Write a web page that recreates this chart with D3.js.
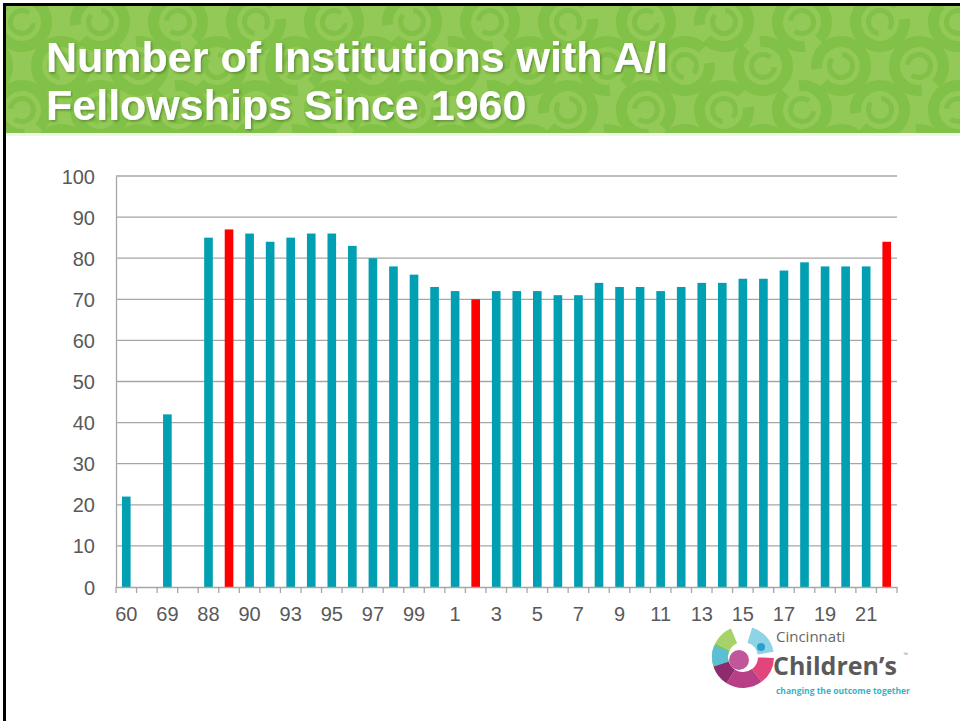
<!DOCTYPE html>
<html><head><meta charset="utf-8">
<script src="https://cdn.jsdelivr.net/npm/d3@7"></script>
<style>
html,body{margin:0;padding:0;background:#fff;}
svg{display:block;font-family:"Liberation Sans",Arial,sans-serif;}
</style></head>
<body>
<svg id="chart" width="960" height="721"></svg>
<script>
// ---- data ----
const categories = ["60","","69"," ","88","89","90","91","93","94","95","96","97","98","99","0","1","2","3","4","5","6","7","8","9","10","11","12","13","14","15","16","17","18","19","20","21","22"];
const values = [22,null,42,null,85,87,86,84,85,86,86,83,80,78,76,73,72,70,72,72,72,71,71,74,73,73,72,73,74,74,75,75,77,79,78,78,78,84];
const highlighted = ["89","2","22"];
const yTicks = [0,10,20,30,40,50,60,70,80,90,100];
const titleLines = ["Number of Institutions with A/I","Fellowships Since 1960"];

const svg = d3.select("#chart");
const W = 960, H = 721;
const defs = svg.append("defs");
const f = defs.append("filter").attr("id","shadow").attr("x","-5%").attr("y","-20%").attr("width","110%").attr("height","140%");
f.append("feDropShadow").attr("dx",1.5).attr("dy",1.5).attr("stdDeviation",1).attr("flood-color","#3d6b1e").attr("flood-opacity",0.6);

// ---- header band ----
const header = svg.append("g");
header.append("rect").attr("x",5).attr("y",5).attr("width",W-5).attr("height",129).attr("fill","#93c956");
defs.append("clipPath").attr("id","hclip").append("rect").attr("x",5).attr("y",5).attr("width",W-5).attr("height",129);
const pat = header.append("g").attr("clip-path","url(#hclip)");
const outer = d3.arc().innerRadius(19).outerRadius(30);
const inner = d3.arc().innerRadius(9).outerRadius(14);
for (let row=0; row<4; row++){
  for (let col=-1; col<14; col++){
    const cx = col*78 + (row%2?39:0) + 22;
    const cy = row*44 + 22;
    const rot = ((row*5+col*3)%4)*90 - 30;
    const g = pat.append("g").attr("transform",`translate(${cx},${cy}) rotate(${rot})`);
    g.append("path").attr("d",outer({startAngle:0.4,endAngle:2*Math.PI-0.25})).attr("fill","#7dbf45").attr("opacity",0.8);
    g.append("path").attr("d",inner({startAngle:2.2,endAngle:2*Math.PI+1.2})).attr("fill","#7dbf45").attr("opacity",0.8);
  }
}
header.append("rect").attr("x",5).attr("y",133).attr("width",W-5).attr("height",3).attr("fill","#eef6e4");
// borders
svg.append("rect").attr("x",3).attr("y",3).attr("width",W-3).attr("height",3).attr("fill","#000");
svg.append("rect").attr("x",3).attr("y",3).attr("width",3).attr("height",H-3).attr("fill","#000");

// title
const title = svg.append("g").attr("filter","url(#shadow)");
titleLines.forEach((t,i)=>{
  title.append("text").attr("x",46).attr("y",72+i*48).attr("font-size",43).attr("font-weight","bold")
    .attr("fill","#ffffff").text(t);
});

// ---- chart ----
const x = d3.scaleBand().domain(categories).range([116,897]).padding(0);
const y = d3.scaleLinear().domain([0,100]).range([587,176]);

const grid = svg.append("g");
grid.selectAll("line").data(yTicks.filter(d=>d>0)).join("line")
  .attr("x1",116).attr("x2",897).attr("y1",d=>y(d)).attr("y2",d=>y(d))
  .attr("stroke","#a6a6a6").attr("stroke-width",1.3);

const bw = x.bandwidth()*0.42;
svg.append("g").selectAll("rect").data(categories.map((c,i)=>({c,v:values[i]})).filter(d=>d.v!=null)).join("rect")
  .attr("x",d=>x(d.c)+x.bandwidth()/2-bw/2).attr("width",bw)
  .attr("y",d=>y(d.v)).attr("height",d=>y(0)-y(d.v))
  .attr("fill",d=>highlighted.includes(d.c)?"#ff0000":"#009fb2");

// y axis
const yAxis = d3.axisLeft(y).tickValues(yTicks).tickSize(0).tickPadding(21);
const yg = svg.append("g").attr("transform","translate(116,0)").call(yAxis);
yg.select(".domain").attr("stroke","#a6a6a6").attr("stroke-width",1.3);
yg.selectAll("text").attr("font-size",20).attr("fill","#595959").attr("font-family","Liberation Sans, Arial, sans-serif").attr("dy","0.35em");

// x axis
const xAxis = d3.axisBottom(x).tickSize(0).tickPadding(20)
  .tickFormat((d,i)=> i%2===0 ? d : "");
const xg = svg.append("g").attr("transform","translate(0,587)").call(xAxis);
xg.select(".domain").attr("stroke","#a6a6a6").attr("stroke-width",1.3);
xg.selectAll("text").attr("font-size",20).attr("fill","#595959").attr("font-family","Liberation Sans, Arial, sans-serif");
// boundary tick marks
const bounds = categories.map(c=>x(c)).concat([897]);
xg.selectAll(".btick").data(bounds).join("line").attr("class","btick")
  .attr("x1",d=>d).attr("x2",d=>d).attr("y1",0).attr("y2",6)
  .attr("stroke","#a6a6a6").attr("stroke-width",1.3);

// ---- logo ----
const logo = svg.append("g").attr("transform","translate(743,657)");
const la = d3.arc();
const segs = [
  {s:-2.0,e:-1.1,c:"#8cc63f"},
  {s:-1.1,e:-0.4,c:"#a6d26a"},
  {s:0.3,e:1.4,c:"#8fd3e6"},
  {s:1.6,e:2.5,c:"#e2457c"},
  {s:2.5,e:3.7,c:"#b83f86"},
  {s:3.7,e:4.4,c:"#8e2b6e"},
  {s:4.4,e:5.1,c:"#5bc0d6"}
];
segs.forEach(s=>logo.append("path").attr("d",la({innerRadius:15,outerRadius:31,startAngle:s.s,endAngle:s.e})).attr("fill",s.c));
logo.append("circle").attr("cx",-4).attr("cy",3).attr("r",10).attr("fill","#c2569a");
logo.append("circle").attr("cx",18).attr("cy",-10).attr("r",4).attr("fill","#2a9fd0");
svg.append("text").attr("x",776).attr("y",642).attr("font-size",15).attr("fill","#666").attr("font-family","Open Sans, sans-serif").text("Cincinnati");
svg.append("text").attr("x",773).attr("y",675).attr("font-size",25).attr("font-weight","bold").attr("fill","#5a5a5a").attr("font-family","Open Sans, sans-serif").text("Children’s");
svg.append("text").attr("x",903).attr("y",656).attr("font-size",5).attr("fill","#777").text("™");
svg.append("text").attr("x",776).attr("y",694).attr("font-size",8.5).attr("font-weight","bold").attr("fill","#35b4c6").attr("font-family","Open Sans, sans-serif").text("changing the outcome together");
</script>
</body></html>
